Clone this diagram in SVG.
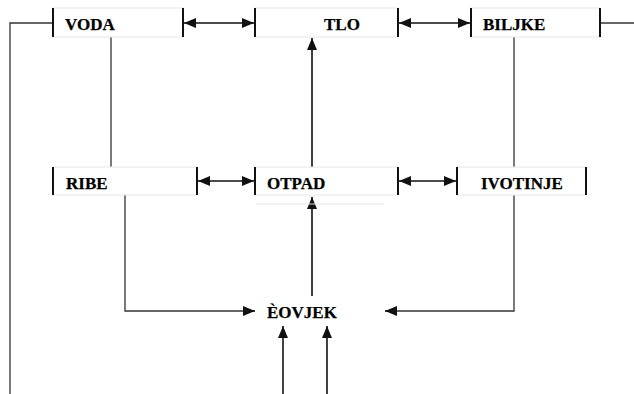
<svg xmlns="http://www.w3.org/2000/svg" width="634" height="394" viewBox="0 0 634 394">
  <style>
    .frame { fill: #ffffff; stroke: #e6e6e6; stroke-width: 1; }
    .bar { stroke: #111111; stroke-width: 2; fill: none; }
    .line { stroke: #333333; stroke-width: 1.3; fill: none; }
    .arrow { stroke: #111111; stroke-width: 1.6; fill: none; }
    text { font-family: 'Liberation Serif', serif; font-weight: 700; font-size: 17px; fill: #000000; stroke: #000000; stroke-width: 0.25; }
  </style>
  <defs>
    <marker id="head" viewBox="0 0 12 10" refX="12" refY="5" markerWidth="12" markerHeight="10" markerUnits="userSpaceOnUse" orient="auto-start-reverse">
      <path d="M0,0 L12,5 L0,10 Z" fill="#111111"/>
    </marker>
  </defs>

  <rect width="634" height="394" fill="#ffffff"/>

  <!-- connectors -->
  <g id="connectors">
    <polyline class="line" points="53,23 10,23 10,394"/>
    <line class="line" x1="600" y1="23" x2="634" y2="23"/>
    <line class="line" x1="111" y1="37" x2="111" y2="167"/>
    <line class="line" x1="514" y1="37" x2="514" y2="167"/>
    <line class="arrow" x1="184" y1="23" x2="254" y2="23" marker-start="url(#head)" marker-end="url(#head)"/>
    <line class="arrow" x1="399" y1="23" x2="470" y2="23" marker-start="url(#head)" marker-end="url(#head)"/>
    <line class="arrow" x1="198" y1="181" x2="254" y2="181" marker-start="url(#head)" marker-end="url(#head)"/>
    <line class="arrow" x1="399" y1="181" x2="456" y2="181" marker-start="url(#head)" marker-end="url(#head)"/>
    <line class="arrow" x1="312" y1="167" x2="312" y2="38" marker-end="url(#head)"/>
    <line class="arrow" x1="312" y1="296" x2="312" y2="197" marker-end="url(#head)"/>
    <polyline class="line" points="125,195 125,311 244,311"/>
    <line class="arrow" x1="243" y1="311" x2="255" y2="311" marker-end="url(#head)"/>
    <polyline class="line" points="514,195 514,311 396,311"/>
    <line class="arrow" x1="397" y1="311" x2="385" y2="311" marker-end="url(#head)"/>
    <line class="arrow" x1="283" y1="394" x2="283" y2="326" marker-end="url(#head)"/>
    <line class="arrow" x1="327" y1="394" x2="327" y2="326" marker-end="url(#head)"/>
  </g>

  <g id="voda">
    <rect class="frame" x="53" y="8" width="130" height="29"/>
    <line class="bar" x1="53" y1="8" x2="53" y2="37"/>
    <line class="bar" x1="183" y1="8" x2="183" y2="37"/>
    <text x="65" y="30">VODA</text>
  </g>

  <g id="tlo">
    <rect class="frame" x="255" y="8" width="143" height="29"/>
    <line class="bar" x1="255" y1="8" x2="255" y2="37"/>
    <line class="bar" x1="398" y1="8" x2="398" y2="37"/>
    <text x="324" y="30">TLO</text>
  </g>

  <g id="biljke">
    <rect class="frame" x="471" y="8" width="129" height="29"/>
    <line class="bar" x1="471" y1="8" x2="471" y2="37"/>
    <line class="bar" x1="600" y1="8" x2="600" y2="37"/>
    <text x="483" y="30">BILJKE</text>
  </g>

  <g id="ribe">
    <rect class="frame" x="53" y="167" width="144" height="28"/>
    <line class="bar" x1="53" y1="167" x2="53" y2="195"/>
    <line class="bar" x1="197" y1="167" x2="197" y2="195"/>
    <text x="66" y="189">RIBE</text>
  </g>

  <g id="otpad">
    <rect class="frame" x="255" y="167" width="143" height="28"/>
    <line x1="256" y1="204" x2="384" y2="204" stroke="#e6e6e6" stroke-width="1"/>
    <line class="bar" x1="255" y1="167" x2="255" y2="195"/>
    <line class="bar" x1="398" y1="167" x2="398" y2="195"/>
    <text x="267" y="189">OTPAD</text>
  </g>

  <g id="ivotinje">
    <rect class="frame" x="457" y="167" width="129" height="28"/>
    <line class="bar" x1="457" y1="167" x2="457" y2="195"/>
    <line class="bar" x1="586" y1="167" x2="586" y2="195"/>
    <text x="481" y="189">IVOTINJE</text>
  </g>

  <g id="covjek">
    <text x="267" y="318">ÈOVJEK</text>
  </g>
</svg>
